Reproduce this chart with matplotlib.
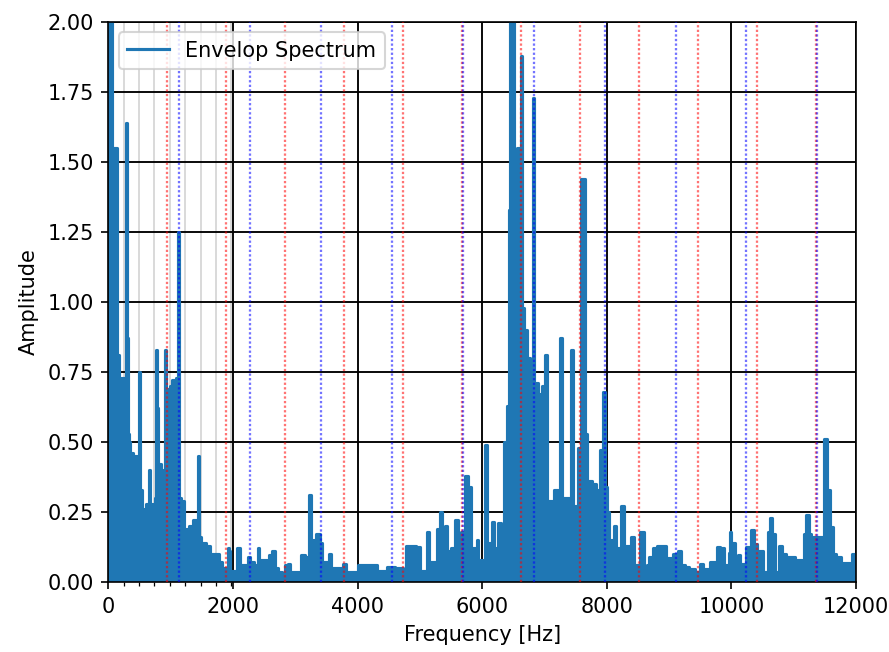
import matplotlib
matplotlib.use("Agg")
import matplotlib.pyplot as plt
import numpy as np

# Envelope spectrum, upper outline read per frequency bin (Hz, amplitude)
freq_hz = [
    0, 18, 48, 60, 140, 150, 172, 178, 200, 205, 268, 285, 302, 318, 345, 365,
    440, 470, 492, 507, 522, 560, 595, 612, 640, 662, 682, 745, 765, 778, 795,
    815, 870, 895, 922, 940, 972, 1000, 1060, 1105, 1128, 1145, 1200, 1225,
    1260, 1330, 1400, 1438, 1452, 1468, 1520, 1600, 1680, 1760, 1800, 1860,
    1905, 1925, 1950, 1965, 2050, 2080, 2110, 2130, 2220, 2255, 2290, 2380,
    2410, 2435, 2530, 2565, 2590, 2655, 2690, 2760, 2810, 2850, 2905, 2935,
    3080, 3105, 3200, 3232, 3262, 3300, 3370, 3420, 3455, 3520, 3555, 3590,
    3750, 3790, 3825, 3990, 4010, 4300, 4330, 4450, 4490, 4700, 4760, 4800,
    4900, 4980, 5010, 5110, 5135, 5160, 5260, 5300, 5345, 5380, 5425, 5450,
    5540, 5600, 5635, 5690, 5755, 5800, 5830, 5900, 5925, 5955, 6035, 6070,
    6100, 6150, 6175, 6215, 6290, 6330, 6375, 6410, 6440, 6465, 6505, 6525,
    6555, 6570, 6610, 6630, 6655, 6700, 6730, 6790, 6830, 6850, 6885, 6905,
    6935, 6990, 7020, 7055, 7130, 7165, 7200, 7230, 7265, 7290, 7420, 7445,
    7480, 7530, 7560, 7625, 7665, 7700, 7810, 7860, 7915, 7960, 7990, 8010,
    8060, 8100, 8130, 8165, 8220, 8250, 8290, 8370, 8420, 8470, 8500, 8575,
    8615, 8670, 8700, 8780, 8840, 8930, 8960, 9030, 9080, 9120, 9170, 9215,
    9290, 9360, 9470, 9520, 9560, 9640, 9680, 9750, 9775, 9860, 9900, 9950,
    9965, 9985, 10010, 10050, 10075, 10130, 10160, 10220, 10250, 10300, 10340,
    10390, 10440, 10500, 10520, 10580, 10600, 10635, 10680, 10710, 10750,
    10790, 10840, 10900, 10990, 11050, 11130, 11150, 11180, 11220, 11260,
    11300, 11330, 11430, 11470, 11505, 11550, 11600, 11650, 11720, 11790,
    11900, 11960, 12000,
]
amplitude = [
    1.55, 2.6, 2.6, 1.55, 1.55, 0.81, 0.81, 0.60, 0.60, 0.73, 0.73, 1.64, 0.87,
    0.53, 0.50, 0.46, 0.45, 0.42, 0.40, 0.75, 0.33, 0.26, 0.24, 0.28, 0.28,
    0.40, 0.28, 0.27, 0.30, 0.83, 0.62, 0.42, 0.39, 0.40, 0.83, 0.44, 0.69,
    0.70, 0.72, 0.73, 1.25, 0.30, 0.29, 0.17, 0.19, 0.20, 0.22, 0.22, 0.45,
    0.16, 0.14, 0.13, 0.10, 0.10, 0.07, 0.05, 0.05, 0.12, 0.11, 0.04, 0.04,
    0.12, 0.12, 0.06, 0.06, 0.09, 0.07, 0.06, 0.12, 0.08, 0.08, 0.06, 0.095,
    0.11, 0.05, 0.035, 0.03, 0.06, 0.065, 0.035, 0.035, 0.095, 0.09, 0.31,
    0.08, 0.15, 0.17, 0.14, 0.07, 0.07, 0.10, 0.05, 0.05, 0.065, 0.035, 0.035,
    0.06, 0.06, 0.04, 0.04, 0.055, 0.05, 0.04, 0.13, 0.13, 0.125, 0.04, 0.04,
    0.18, 0.07, 0.07, 0.19, 0.25, 0.13, 0.20, 0.11, 0.12, 0.22, 0.12, 0.18,
    0.38, 0.34, 0.12, 0.12, 0.15, 0.08, 0.08, 0.49, 0.14, 0.14, 0.215, 0.12,
    0.21, 0.13, 0.50, 0.63, 1.33, 2.6, 2.6, 0.87, 0.87, 1.55, 1.55, 1.88,
    0.98, 0.90, 0.80, 0.73, 1.73, 0.71, 0.71, 0.50, 0.67, 0.70, 0.81, 0.29,
    0.29, 0.33, 0.33, 0.19, 0.87, 0.30, 0.30, 0.83, 0.27, 0.27, 0.48, 1.44,
    0.53, 0.36, 0.35, 0.33, 0.47, 0.68, 0.34, 0.25, 0.15, 0.15, 0.20, 0.12,
    0.12, 0.27, 0.13, 0.13, 0.16, 0.06, 0.06, 0.18, 0.056, 0.06, 0.09, 0.12,
    0.13, 0.13, 0.085, 0.085, 0.10, 0.10, 0.11, 0.06, 0.055, 0.045, 0.035,
    0.065, 0.047, 0.047, 0.07, 0.07, 0.125, 0.12, 0.06, 0.06, 0.105, 0.18,
    0.14, 0.14, 0.053, 0.095, 0.065, 0.065, 0.125, 0.125, 0.185, 0.135, 0.11,
    0.11, 0.035, 0.035, 0.18, 0.23, 0.17, 0.035, 0.035, 0.13, 0.10, 0.09,
    0.09, 0.077, 0.077, 0.05, 0.17, 0.24, 0.17, 0.04, 0.16, 0.16, 0.16, 0.51,
    0.33, 0.195, 0.10, 0.09, 0.067, 0.067, 0.10, 0.10,
]

# Characteristic fault frequencies and how many harmonics are marked
bpfo_hz = 947.0
bpfo_count = 12
bpfi_hz = 1138.0
bpfi_count = 10
shaft_hz = 247.0
shaft_count = 8

x_ticks = [0, 2000, 4000, 6000, 8000, 10000, 12000]
y_ticks = [0.00, 0.25, 0.50, 0.75, 1.00, 1.25, 1.50, 1.75, 2.00]

W, H, DPI = 889, 652, 150
fig = plt.figure(figsize=(W / DPI, H / DPI), dpi=DPI)
ax = fig.add_axes([108.3 / W, (H - 582) / H, (856 - 108.3) / W, 560 / H])

ax.plot(freq_hz, amplitude, color="tab:blue", lw=1.5, drawstyle="steps-mid",
        label="Envelop Spectrum", zorder=2)
ax.fill_between(freq_hz, 0, amplitude, step="mid", facecolor="tab:blue",
                edgecolor="none", zorder=2)

dots = (0, (1, 1))
for k in range(1, bpfo_count + 1):
    ax.axvline(k * bpfo_hz, color="red", linestyle=dots, lw=1.1, alpha=0.55, zorder=3)
for k in range(1, bpfi_count + 1):
    ax.axvline(k * bpfi_hz, color="blue", linestyle=dots, lw=1.1, alpha=0.55, zorder=3)

ax.set_xticks(x_ticks)
ax.set_xticks([k * shaft_hz for k in range(1, shaft_count + 1)], minor=True)
ax.set_yticks(y_ticks)
ax.yaxis.set_major_formatter(matplotlib.ticker.FormatStrFormatter("%.2f"))
ax.grid(which="major", color="black", lw=0.9)
ax.grid(which="minor", axis="x", color="lightgray", lw=0.8)

ax.set_xlim(0, 12000)
ax.set_ylim(0, 2.0)
ax.set_xlabel("Frequency [Hz]")
ax.set_ylabel("Amplitude")
ax.legend(loc="upper left")

fig.savefig("out.png", dpi=DPI)
